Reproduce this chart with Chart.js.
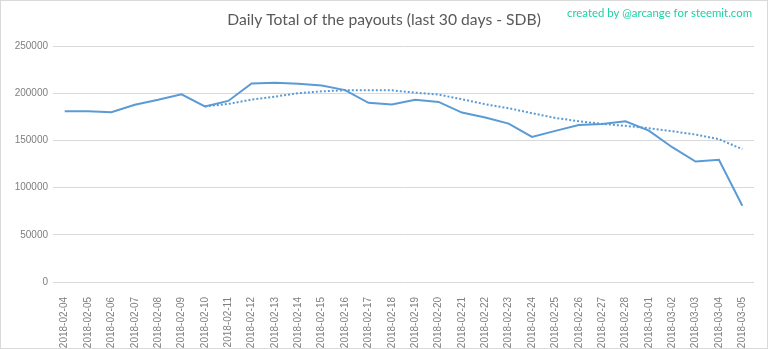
<!DOCTYPE html>
<html>
<head>
<meta charset="utf-8">
<script src="https://cdn.jsdelivr.net/npm/chart.js@4/dist/chart.umd.min.js"></script>
<style>
    html, body { margin: 0; padding: 0; background: #fff; }
    #wrap { width: 768px; height: 349px; position: relative; }
</style>
</head>
<body>
<div id="wrap"><canvas id="payoutChart" width="768" height="349"></canvas></div>
<script>
const days = [
    '2018-02-04', '2018-02-05', '2018-02-06', '2018-02-07', '2018-02-08', '2018-02-09',
    '2018-02-10', '2018-02-11', '2018-02-12', '2018-02-13', '2018-02-14', '2018-02-15',
    '2018-02-16', '2018-02-17', '2018-02-18', '2018-02-19', '2018-02-20', '2018-02-21',
    '2018-02-22', '2018-02-23', '2018-02-24', '2018-02-25', '2018-02-26', '2018-02-27',
    '2018-02-28', '2018-03-01', '2018-03-02', '2018-03-03', '2018-03-04', '2018-03-05'
];
const payouts = [
    181000, 180800, 179800, 187800, 193000, 198800,
    186000, 191800, 210300, 211000, 210000, 208200,
    203300, 189800, 188000, 193000, 190800, 179500,
    174200, 167800, 153700, 160100, 166400, 167500,
    170300, 160400, 142800, 127600, 129400, 80700
];
// moving average trend (dotted)
const trend = [
    null, null, null, null, null, null,
    186000, 188600, 193200, 196400, 200000, 202000,
    203100, 203100, 203000, 200600, 198500, 193600,
    188300, 184100, 178800, 173800, 170300, 167500,
    165400, 162900, 159700, 156200, 151300, 140700
];
const yTicks = [0, 50000, 100000, 150000, 200000, 250000];

const chartTitle = 'Daily Total of the payouts (last 30 days - SDB)';
const credit = 'created by @arcange for steemit.com';

// titre + signature + cadre
const decor = {
    id: 'decor',
    afterDraw(chart) {
        const ctx = chart.ctx;
        ctx.save();
        ctx.strokeStyle = '#d9d9d9';
        ctx.lineWidth = 1;
        ctx.strokeRect(0.5, 0.5, chart.width - 1, chart.height - 1);

        ctx.fillStyle = '#595959';
        ctx.font = '15.7px Lato, "Open Sans", sans-serif';
        ctx.textAlign = 'center';
        ctx.textBaseline = 'middle';
        ctx.fillText(chartTitle, 384, 20);

        ctx.fillStyle = '#1fcfa5';
        ctx.font = '11.4px Lato, "Open Sans", sans-serif';
        ctx.textAlign = 'right';
        ctx.fillText(credit, 752, 13);
        ctx.restore();
    }
};

const ctx = document.getElementById('payoutChart').getContext('2d');
new Chart(ctx, {
    type: 'line',
    data: {
        labels: days,
        datasets: [
            {
                label: 'Payouts',
                data: payouts,
                borderColor: '#5b9bd5',
                borderWidth: 2,
                pointRadius: 0,
                fill: false,
                tension: 0
            },
            {
                label: 'Trend',
                data: trend,
                borderColor: '#5b9bd5',
                borderWidth: 2,
                borderDash: [2, 2],
                pointRadius: 0,
                fill: false,
                tension: 0
            }
        ]
    },
    options: {
        responsive: false,
        animation: false,
        layout: { padding: { top: 46, right: 14, left: 0, bottom: 0 } },
        plugins: {
            legend: { display: false },
            tooltip: { enabled: false }
        },
        scales: {
            x: {
                offset: true,
                grid: { display: false },
                border: { display: false },
                ticks: {
                    color: '#7f7f7f',
                    font: { family: '"Liberation Sans", Arial', size: 10 },
                    minRotation: 90,
                    maxRotation: 90,
                    autoSkip: false,
                    padding: 7
                },
                afterFit(scale) { scale.height = 67; }
            },
            y: {
                min: 0,
                max: 250000,
                afterBuildTicks(scale) { scale.ticks = yTicks.map(v => ({ value: v })); },
                grid: { color: '#d9d9d9', drawTicks: false },
                border: { display: false },
                ticks: {
                    color: '#7f7f7f',
                    font: { family: '"Liberation Sans", Arial', size: 10 },
                    padding: 5,
                    callback: v => String(v)
                },
                afterFit(scale) { scale.width = 53; }
            }
        }
    },
    plugins: [decor]
});
</script>
</body>
</html>
